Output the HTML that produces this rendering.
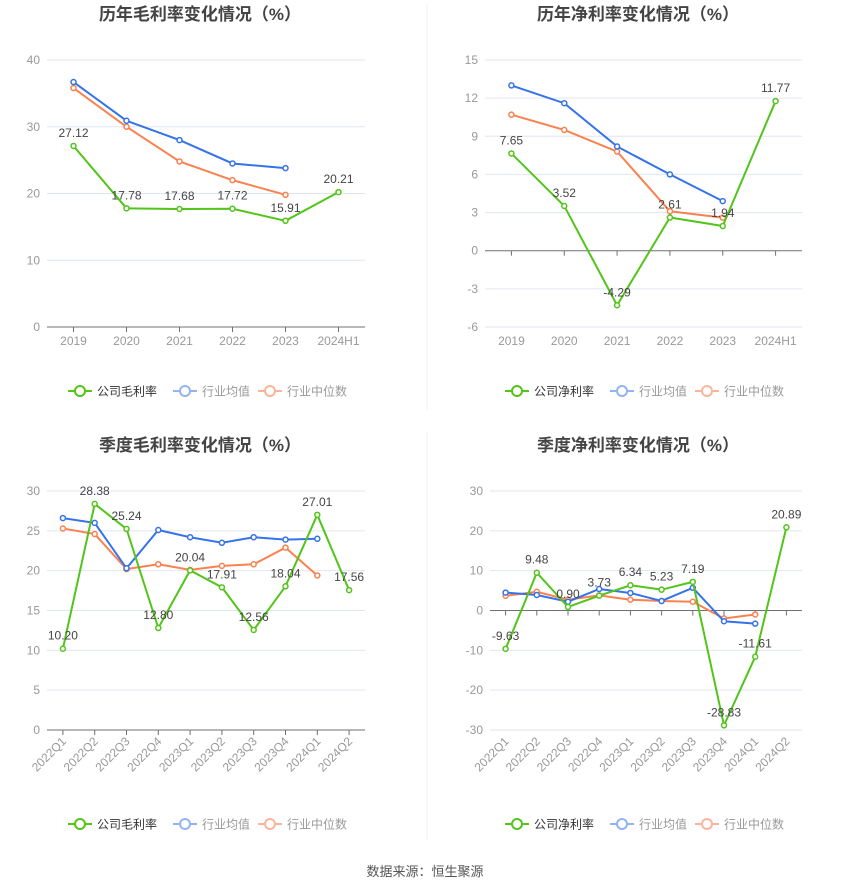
<!DOCTYPE html>
<html><head><meta charset="utf-8">
<style>
body{margin:0;background:#fff;width:850px;height:891px;overflow:hidden;font-family:"Liberation Sans","Noto Sans CJK SC",sans-serif;}
svg{display:block}
</style></head>
<body>
<svg id="c" width="850" height="891" font-family="Liberation Sans, Noto Sans CJK SC, sans-serif">
<line x1="427" y1="5" x2="427" y2="410" stroke="#eef0f4"/>
<line x1="427" y1="432" x2="427" y2="840" stroke="#eef0f4"/>
<text x="425" y="876" text-anchor="middle" font-size="13" fill="#555">数据来源：恒生聚源</text>
</svg>
<script>
const years=["2019","2020","2021","2022","2023","2024H1"];
const quarters=["2022Q1","2022Q2","2022Q3","2022Q4","2023Q1","2023Q2","2023Q3","2023Q4","2024Q1","2024Q2"];
const gmCompany=[27.12,17.78,17.68,17.72,15.91,20.21];
const gmAvg=[36.7,30.9,28.0,24.5,23.8];
const gmMed=[35.8,30.0,24.8,22.0,19.8];
const nmCompany=[7.65,3.52,-4.29,2.61,1.94,11.77];
const nmAvg=[13.0,11.6,8.2,6.0,3.9];
const nmMed=[10.7,9.5,7.8,3.1,2.6];
const qgmCompany=[10.20,28.38,25.24,12.80,20.04,17.91,12.56,18.04,27.01,17.56];
const qgmAvg=[26.6,26.0,20.3,25.1,24.2,23.5,24.2,23.9,24.0];
const qgmMed=[25.3,24.6,20.2,20.8,20.1,20.6,20.8,22.9,19.4];
const qnmCompany=[-9.63,9.48,0.90,3.73,6.34,5.23,7.19,-28.83,-11.61,20.89];
const qnmAvg=[4.5,3.9,2.2,5.4,4.4,2.4,5.7,-2.7,-3.3];
const qnmMed=[3.7,4.7,2.7,3.8,2.7,2.4,2.2,-2.0,-1.0];
const yt1=[0,10,20,30,40], yt2=[-6,-3,0,3,6,9,12,15], yt3=[0,5,10,15,20,25,30], yt4=[-30,-20,-10,0,10,20,30];

const NS="http://www.w3.org/2000/svg";
const svg=document.getElementById('c');
function el(tag,attrs,parent){const e=document.createElementNS(NS,tag);for(const k in attrs)e.setAttribute(k,attrs[k]);(parent||svg).appendChild(e);return e;}

function chart(o){
  const g=el('g',{});
  
  
  const t=el('text',{x:o.cx,y:o.ty,'text-anchor':'middle','font-size':17,'font-weight':'bold',fill:'#444'},g);
  t.textContent=o.title;
  
  
  const min=o.ticks[0],max=o.ticks[o.ticks.length-1];
  const Y=v=>o.y1+(max-v)/(max-min)*(o.y0-o.y1);
  const n=o.cats.length, step=(o.x1-o.x0)/n;
  const X=i=>o.x0+step*(i+0.5);
  o.ticks.forEach(v=>{
    const gl=el('line',{x1:o.x0,x2:o.x1,y1:Y(v),y2:Y(v),stroke:v===0?'#6e7079':'#e0e6f1'},g);
    
    
    const tl=el('text',{x:o.x0-7,y:Y(v)+4,'text-anchor':'end','font-size':12,fill:'#999'},g);
    tl.textContent=v;
    
    
  });
  o.cats.forEach((c,i)=>{
    el('line',{x1:X(i),x2:X(i),y1:Y(0),y2:Y(0)+5,stroke:'#6e7079'},g);
    let tl;
    if(o.rot){tl=el('text',{x:X(i)+4,y:o.y0+12,'text-anchor':'end','font-size':12,fill:'#999',transform:`rotate(-45 ${X(i)+4} ${o.y0+12})`},g);}
    else tl=el('text',{x:X(i),y:o.y0+18,'text-anchor':'middle','font-size':12,fill:'#999'},g);
    tl.textContent=c;
    
    
  });
  const series=[[o.med,'#fa8150','median-line'],[o.avg,'#3573e8','average-line'],[o.comp,'#52c41a','company-line']];
  series.forEach(([d,col,nm])=>{
    const p=el('polyline',{points:d.map((v,i)=>X(i)+','+Y(v)).join(' '),fill:'none',stroke:col,'stroke-width':2},g);
    
    
    d.forEach((v,i)=>{
      const c=el('circle',{cx:X(i),cy:Y(v),r:2.5,fill:'#fff',stroke:col,'stroke-width':1.5},g);
      
      
    });
  });
  o.comp.forEach((v,i)=>{
    const lt=el('text',{x:X(i),y:Y(v)-9,'text-anchor':'middle','font-size':12,fill:'#444'},g);
    lt.textContent=v.toFixed(2);
    
    
  });
  const lg=el('g',{},g);
  
  
  const items=[[o.leg,'#52c41a','#333',68],['行业均值','#93b4f3','#999',173],['行业中位数','#fcb59a','#999',258]];
  items.forEach(([txt,col,tc,dx])=>{
    const ig=el('g',{},lg);
    
    
    const lx=o.lx+dx-68;
    el('line',{x1:lx,x2:lx+24,y1:o.ly,y2:o.ly,stroke:col,'stroke-width':2},ig);
    el('circle',{cx:lx+12,cy:o.ly,r:5,fill:'#fff',stroke:col,'stroke-width':2},ig);
    const tt=el('text',{x:lx+29,y:o.ly+4.5,'font-size':12,fill:tc},ig);
    tt.textContent=txt;
  });
}
chart({name:'annual-gross-margin-chart',title:'历年毛利率变化情况（%）',cx:200,ty:20,x0:47,x1:365,y0:327,y1:60,ticks:yt1,cats:years,comp:gmCompany,avg:gmAvg,med:gmMed,leg:'公司毛利率',lx:68,ly:391});
chart({name:'annual-net-margin-chart',title:'历年净利率变化情况（%）',cx:638,ty:20,x0:485,x1:802,y0:327,y1:60,ticks:yt2,cats:years,comp:nmCompany,avg:nmAvg,med:nmMed,leg:'公司净利率',lx:505,ly:391});
chart({name:'quarterly-gross-margin-chart',title:'季度毛利率变化情况（%）',cx:200,ty:451,x0:47,x1:365,y0:730,y1:491,ticks:yt3,cats:quarters,comp:qgmCompany,avg:qgmAvg,med:qgmMed,leg:'公司毛利率',lx:68,ly:824,rot:true});
chart({name:'quarterly-net-margin-chart',title:'季度净利率变化情况（%）',cx:638,ty:451,x0:490,x1:802,y0:730,y1:491,ticks:yt4,cats:quarters,comp:qnmCompany,avg:qnmAvg,med:qnmMed,leg:'公司净利率',lx:505,ly:824,rot:true});
</script>
</body></html>
